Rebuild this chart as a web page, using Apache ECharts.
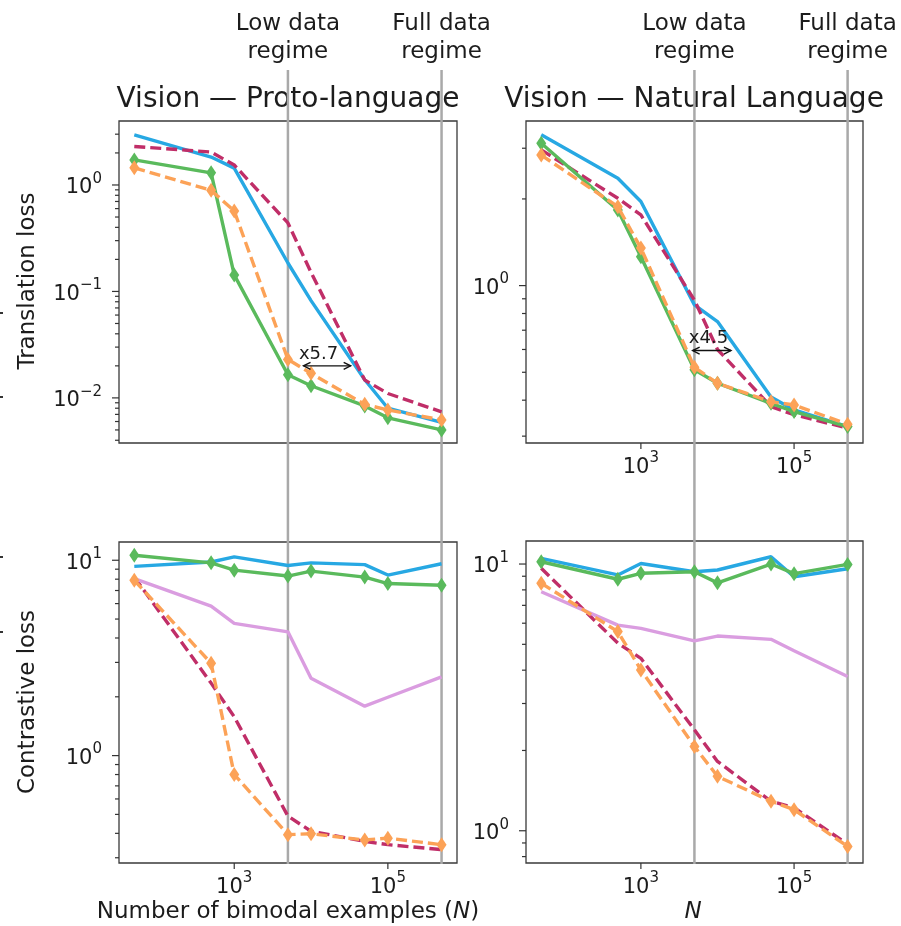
<!DOCTYPE html>
<html>
<head>
<meta charset="utf-8">
<script src="https://cdn.jsdelivr.net/npm/echarts@6/dist/echarts.min.js"></script>
<style>
  html, body { margin: 0; padding: 0; background: #ffffff; }
  #chart { width: 901px; height: 926px; }
</style>
</head>
<body>
<div id="chart"></div>
<script>
// Number of bimodal examples used for each run
const N = [50, 500, 1000, 5000, 10000, 50000, 100000, 500000];

// Vision — Proto-language, translation loss
const protoTransBlue    = [2.95, 1.83, 1.44, 0.185, 0.082, 0.0148, 0.008, 0.0059];
const protoTransCrimson = [2.3, 2.04, 1.54, 0.44, 0.151, 0.0147, 0.011, 0.0074];
const protoTransGreen   = [1.72, 1.30, 0.143, 0.0165, 0.013, 0.0084, 0.0065, 0.005];
const protoTransOrange  = [1.45, 0.89, 0.57, 0.023, 0.017, 0.0087, 0.0077, 0.0062];

// Vision — Natural Language, translation loss
const natTransBlue    = [3.34, 2.36, 1.96, 0.857, 0.75, 0.41, 0.37, 0.324];
const natTransCrimson = [2.96, 2.01, 1.76, 0.89, 0.60, 0.38, 0.356, 0.32];
const natTransGreen   = [3.12, 1.83, 1.26, 0.51, 0.458, 0.39, 0.365, 0.324];
const natTransOrange  = [2.84, 1.88, 1.35, 0.52, 0.458, 0.395, 0.385, 0.33];

// Vision — Proto-language, contrastive loss
const protoContrBlue    = [9.3, 9.8, 10.4, 9.4, 9.7, 9.5, 8.4, 9.6];
const protoContrGreen   = [10.6, 9.7, 8.9, 8.3, 8.8, 8.2, 7.6, 7.45];
const protoContrViolet  = [8.06, 5.82, 4.75, 4.3, 2.49, 1.79, 1.99, 2.53];
const protoContrCrimson = [8.2, 2.35, 1.58, 0.49, 0.41, 0.364, 0.35, 0.33];
const protoContrOrange  = [7.9, 2.97, 0.80, 0.394, 0.398, 0.37, 0.378, 0.35];

// Vision — Natural Language, contrastive loss
const natContrBlue    = [10.5, 9.1, 10.05, 9.36, 9.5, 10.65, 8.96, 9.6];
const natContrGreen   = [10.2, 8.77, 9.23, 9.36, 8.5, 10.0, 9.2, 9.97];
const natContrViolet  = [7.87, 5.9, 5.74, 5.15, 5.37, 5.22, 4.73, 3.79];
const natContrCrimson = [9.64, 5.05, 4.43, 2.39, 1.82, 1.29, 1.22, 0.89];
const natContrOrange  = [8.47, 5.58, 4.01, 2.07, 1.6, 1.29, 1.2, 0.873];

// Regime markers (x positions and captions)
const regimeN = [5000, 500000];
const regimeLabels = ['Low data\nregime', 'Full data\nregime'];

// Gap annotations: [from N, to N, loss level, label N, label loss, text]
const protoGap = [7980, 32800, 0.02, 12530, 0.0259, 'x5.7'];
const natGap   = [4740, 15000, 0.595, 7620, 0.657, 'x4.5'];

// Tick positions
const xMajorTicks = [1000, 100000];
const protoTransYTicks = [0.01, 0.1, 1];
const natTransYTicks   = [1];
const contrYTicks      = [1, 10];
const minorSubs = [2, 3, 4, 5, 6, 7, 8, 9];

const FONT = 'DejaVu Sans';
const TEXT = '#1c1c1c';
const BLUE = '#27a8e3', CRIMSON = '#c02e68', GREEN = '#5aba5c', ORANGE = '#fca257', VIOLET = '#da9de0';
const X_MIN = 31.62, X_MAX = 794300;

const panels = [
  { grid: { left: 119, top: 121, width: 338, height: 322 }, yMin: 0.00377, yMax: 3.99,
    yTicks: protoTransYTicks, xTicks: [], xLabels: false },
  { grid: { left: 526, top: 121, width: 337, height: 322 }, yMin: 0.284, yMax: 3.73,
    yTicks: natTransYTicks, xTicks: xMajorTicks, xLabels: true },
  { grid: { left: 119, top: 542, width: 338, height: 321 }, yMin: 0.282, yMax: 12.4,
    yTicks: contrYTicks, xTicks: xMajorTicks, xLabels: true },
  { grid: { left: 526, top: 541, width: 337, height: 322 }, yMin: 0.757, yMax: 12.2,
    yTicks: contrYTicks, xTicks: xMajorTicks, xLabels: true }
];

function isOneOf(v, list) {
  return list.some(t => Math.abs(Math.log10(v) - Math.log10(t)) < 1e-6);
}
function powLabel(v) {
  const e = Math.round(Math.log10(v));
  const s = e < 0 ? '\u2212' + (-e) : String(e);
  return '{b|10}{s|' + s + '}';
}
const richTick = {
  b: { fontSize: 21, fontFamily: FONT, color: TEXT, lineHeight: 27, verticalAlign: 'bottom' },
  s: { fontSize: 15, fontFamily: FONT, color: TEXT, lineHeight: 17, verticalAlign: 'top' }
};

function minorValues(lo, hi) {
  const out = [];
  for (let e = Math.floor(Math.log10(lo)); e <= Math.ceil(Math.log10(hi)); e++) {
    minorSubs.forEach(m => {
      const v = m * Math.pow(10, e);
      if (v > lo && v < hi) out.push(v);
    });
  }
  return out;
}

const xAxes = panels.map((p, i) => ({
  type: 'log', logBase: 10, gridIndex: i, min: X_MIN, max: X_MAX,
  axisLine: { show: false }, axisTick: { show: false }, splitLine: { show: false },
  axisLabel: {
    show: p.xLabels, interval: 0, margin: 8,
    formatter: v => isOneOf(v, p.xTicks) ? powLabel(v) : '',
    rich: richTick
  }
}));
const yAxes = panels.map((p, i) => ({
  type: 'log', logBase: 10, gridIndex: i, min: p.yMin, max: p.yMax,
  axisLine: { show: false }, axisTick: { show: false }, splitLine: { show: false },
  axisLabel: {
    interval: 0, margin: 17,
    formatter: v => isOneOf(v, p.yTicks) ? powLabel(v) : '',
    rich: richTick
  }
}));

function lineSeries(gi, values, color, dashed, marker, z) {
  return {
    type: 'line', xAxisIndex: gi, yAxisIndex: gi, z: z, silent: true,
    data: N.map((n, k) => [n, values[k]]),
    lineStyle: { color: color, width: 3.4, type: dashed ? [11, 5] : 'solid' },
    itemStyle: { color: color, borderWidth: 0 },
    symbol: marker ? 'diamond' : 'none', symbolSize: [10, 15], showSymbol: marker
  };
}

// Axis ticks (major + minor) drawn on the left and bottom edges of each panel
function tickSeries(gi, p) {
  const items = [];
  p.yTicks.forEach(v => items.push([X_MIN, v, 0]));
  minorValues(p.yMin, p.yMax).forEach(v => items.push([X_MIN, v, 1]));
  p.xTicks.forEach(v => items.push([v, p.yMin, 2]));
  return {
    type: 'custom', xAxisIndex: gi, yAxisIndex: gi, clip: false, silent: true, z: 6,
    data: items,
    renderItem: function (params, api) {
      const kind = api.value(2);
      const pt = api.coord([api.value(0), api.value(1)]);
      let shape;
      if (kind === 2) shape = { x1: pt[0], y1: pt[1], x2: pt[0], y2: pt[1] + 6 };
      else {
        const len = kind === 0 ? 7 : 4;
        shape = { x1: pt[0] - len, y1: pt[1], x2: pt[0], y2: pt[1] };
      }
      return { type: 'line', shape: shape, style: { stroke: '#333333', lineWidth: 1.2 } };
    }
  };
}

// Vertical regime lines running through both rows, with their captions on top
function regimeSeries(gi, p) {
  return {
    type: 'custom', xAxisIndex: gi, yAxisIndex: gi, clip: false, silent: true, z: 1,
    data: regimeN.map(n => [n, p.yMax]),
    renderItem: function (params, api) {
      const pt = api.coord([api.value(0), api.value(1)]);
      return {
        type: 'group',
        children: [
          { type: 'line', shape: { x1: pt[0], y1: 70, x2: pt[0], y2: 864 },
            style: { stroke: '#a9a9a9', lineWidth: 2.5 } },
          { type: 'text', x: pt[0], y: 38,
            style: { text: regimeLabels[params.dataIndex], fill: TEXT, font: '23px "DejaVu Sans"',
                     lineHeight: 28, align: 'center', verticalAlign: 'middle',
                     textAlign: 'center', textVerticalAlign: 'middle' } }
        ]
      };
    }
  };
}

// Double-headed arrow marking the data-efficiency gap
function gapSeries(gi, g) {
  return {
    type: 'custom', xAxisIndex: gi, yAxisIndex: gi, clip: false, silent: true, z: 7,
    data: [[g[0], g[2], g[1], g[3], g[4]]],
    renderItem: function (params, api) {
      const a = api.coord([api.value(0), api.value(1)]);
      const b = api.coord([api.value(2), api.value(1)]);
      const t = api.coord([api.value(3), api.value(4)]);
      const hl = 7, hw = 3.5;
      const st = { stroke: '#111111', lineWidth: 1.4, fill: null };
      return {
        type: 'group',
        children: [
          { type: 'line', shape: { x1: a[0], y1: a[1], x2: b[0], y2: b[1] }, style: st },
          { type: 'polyline', shape: { points: [[a[0] + hl, a[1] - hw], [a[0], a[1]], [a[0] + hl, a[1] + hw]] }, style: st },
          { type: 'polyline', shape: { points: [[b[0] - hl, b[1] - hw], [b[0], b[1]], [b[0] - hl, b[1] + hw]] }, style: st },
          { type: 'text', x: t[0], y: t[1],
            style: { text: g[5], fill: TEXT, font: '18px "DejaVu Sans"',
                     align: 'center', verticalAlign: 'middle',
                     textAlign: 'center', textVerticalAlign: 'middle' } }
        ]
      };
    }
  };
}

const series = [
  lineSeries(0, protoTransBlue, BLUE, false, false, 2),
  lineSeries(0, protoTransCrimson, CRIMSON, true, false, 3),
  lineSeries(0, protoTransGreen, GREEN, false, true, 4),
  lineSeries(0, protoTransOrange, ORANGE, true, true, 5),

  lineSeries(1, natTransBlue, BLUE, false, false, 2),
  lineSeries(1, natTransCrimson, CRIMSON, true, false, 3),
  lineSeries(1, natTransGreen, GREEN, false, true, 4),
  lineSeries(1, natTransOrange, ORANGE, true, true, 5),

  lineSeries(2, protoContrBlue, BLUE, false, false, 2),
  lineSeries(2, protoContrCrimson, CRIMSON, true, false, 3),
  lineSeries(2, protoContrViolet, VIOLET, false, false, 3),
  lineSeries(2, protoContrGreen, GREEN, false, true, 4),
  lineSeries(2, protoContrOrange, ORANGE, true, true, 5),

  lineSeries(3, natContrBlue, BLUE, false, false, 2),
  lineSeries(3, natContrCrimson, CRIMSON, true, false, 3),
  lineSeries(3, natContrViolet, VIOLET, false, false, 3),
  lineSeries(3, natContrGreen, GREEN, false, true, 4),
  lineSeries(3, natContrOrange, ORANGE, true, true, 5),

  regimeSeries(0, panels[0]),
  regimeSeries(1, panels[1]),
  gapSeries(0, protoGap),
  gapSeries(1, natGap)
].concat(panels.map((p, i) => tickSeries(i, p)));

function label(text, x, y, size, rot, extra) {
  return Object.assign({
    type: 'text', x: x, y: y, rotation: rot || 0, z: 0,
    style: { text: text, fill: TEXT, font: size + 'px "DejaVu Sans"',
             align: 'center', verticalAlign: 'middle',
             textAlign: 'center', textVerticalAlign: 'middle' }
  }, extra || {});
}

const graphic = [
  label('Vision \u2014 Proto-language', 288, 100, 28),
  label('Vision \u2014 Natural Language', 694, 100, 28),
  label('Translation loss', 28, 281, 23, Math.PI / 2),
  label('Contrastive loss', 28, 702, 23, Math.PI / 2),
  {
    type: 'text', x: 288, y: 912, z: 0,
    style: {
      text: '{t|Number of bimodal examples (}{i|N}{t|)}',
      align: 'center', verticalAlign: 'middle', textAlign: 'center', textVerticalAlign: 'middle',
      rich: {
        t: { fontSize: 23, fontFamily: FONT, fill: TEXT, color: TEXT },
        i: { fontSize: 23, fontFamily: FONT, fontStyle: 'italic', fill: TEXT, color: TEXT }
      }
    }
  },
  {
    type: 'text', x: 693, y: 912, z: 0,
    style: { text: 'N', fill: TEXT, font: 'italic 23px "DejaVu Sans"',
             align: 'center', verticalAlign: 'middle', textAlign: 'center', textVerticalAlign: 'middle' }
  },
  // cropped tick marks from a neighbouring figure along the left edge
  { type: 'rect', shape: { x: 0, y: 312, width: 3, height: 2 }, style: { fill: '#333' } },
  { type: 'rect', shape: { x: 0, y: 396, width: 3, height: 2 }, style: { fill: '#333' } },
  { type: 'rect', shape: { x: 0, y: 556, width: 3, height: 2 }, style: { fill: '#333' } },
  { type: 'rect', shape: { x: 0, y: 631, width: 3, height: 2 }, style: { fill: '#333' } }
];

const chart = echarts.init(document.getElementById('chart'), null, { renderer: 'canvas' });
chart.setOption({
  animation: false,
  backgroundColor: '#ffffff',
  grid: panels.map(p => Object.assign({ show: true, borderColor: '#3a3a3a', borderWidth: 1.3,
                                        backgroundColor: 'transparent', containLabel: false }, p.grid)),
  xAxis: xAxes,
  yAxis: yAxes,
  series: series,
  graphic: graphic
});
</script>
</body>
</html>
